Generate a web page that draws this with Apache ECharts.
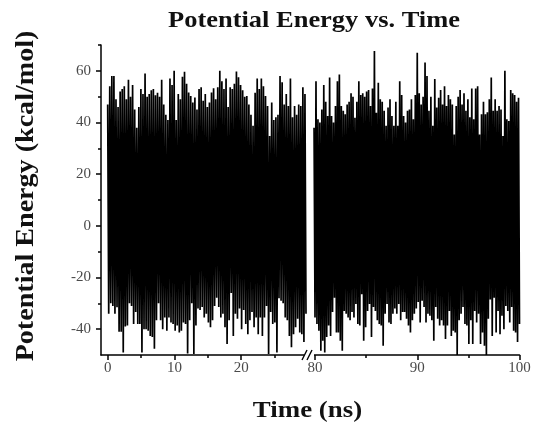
<!DOCTYPE html>
<html>
<head>
<meta charset="utf-8">
<script src="https://cdn.jsdelivr.net/npm/echarts@6/dist/echarts.min.js"></script>
<style>html,body{margin:0;padding:0;background:#fff;}#c{width:534px;height:426px;}</style>
</head>
<body>
<div id="c"></div>
<script>
// ---- data ----
const titleText = 'Potential Energy vs. Time';
const xName = 'Time (ns)';
const yName = 'Potential Energy (kcal/mol)';

const leftRange = [0, 29.7];     // ns, first segment of data
const rightRange = [79.9, 100];  // ns, second segment of data

const leftTop = [47,54,58,58,49,46,52,53,54,49,56.5,50,54.5,45,38,46,53,51,59,50,51,52.5,53,50.5,51.5,50,56.5,47,43,41,57,54.5,60,41,51,49,57.7,59.6,55,51.6,50.3,47.7,49.7,45,53,53.6,48.4,51,46,47.7,51.6,53.3,49,53.6,60,56,53,57,46,53.6,53,55,59.7,57.5,54.5,52.5,50,50.3,47,43,38.7,51.5,57,53,57,54,50.3,46.4,34.8,47.7,41,42,43,58,55.6,47,51,46.4,57,42,46.4,43,47,46.4,53.6,51];
const leftBottom = [-34,-30,-31,-34,-31.5,-41,-41,-49,-39,-38.6,-30,-31,-38,-33.4,-38,-38,-49,-40,-40,-40.6,-42.6,-43,-47.6,-36.5,-30,-36.5,-40,-35.5,-40.6,-35.5,-37.4,-38,-40.6,-38.6,-41.3,-40.6,-37.4,-38,-49.4,-36.5,-30,-49.6,-38.6,-32,-32.6,-31.4,-35.5,-34,-37.4,-39.3,-36.5,-31,-27.8,-31.4,-35.5,-34,-39.3,-45.7,-36.5,-26,-42.6,-34,-36,-32,-40,-32.6,-38,-42,-36.5,-33.4,-39.3,-35.5,-42,-35.5,-42.6,-35.5,-31,-49.6,-33.4,-38,-37.4,-49,-28,-29,-30,-35.5,-36.5,-42.6,-47,-42,-39.3,-36,-41.3,-42,-45,-34];
const rightTop = [38,56,41.3,40,45,54.5,48,42.5,57.4,42.5,40,46.4,56,58.6,46.4,44.5,43.2,47,48,51.3,50,41.8,48,56,50.6,51.3,50,52,52.6,46.4,53.2,67.7,43.8,55.4,49,48,44.5,38.7,45.8,49,42.5,38.7,48,38.7,56,50.6,42.5,40,44.5,45,49,41.3,50.6,67,51.3,47,50,63.2,58,44.5,50,38.7,56.8,45.8,49.6,52.6,47,54,46.4,50.6,49,47,35.4,46.4,50,52.6,47,51.3,44.5,49,42,53.2,41.3,53.2,54,35.4,43.2,48,43.2,44,49,57.4,44.5,49,44.5,46.4,45,34.8,60,41.3,40.6,52.6,51.3,50.6,48,49.6];
const rightBottom = [-35.5,-38,-40.6,-48.4,-44.5,-49,-43,-38.6,-42.6,-33.4,-27.8,-41.3,-41.3,-44.5,-48.4,-33,-34,-35.5,-36.5,-33.4,-35.5,-30.3,-38,-38.6,-26.5,-44.5,-39.3,-33,-30.3,-43,-31.4,-33,-36.5,-38,-38.6,-46.4,-34,-30.3,-37.4,-38,-34,-32,-34,-30.3,-36.5,-33.4,-33.4,-36,-38.6,-41.3,-36.5,-34,-32,-29.5,-37.4,-29,-31.4,-37.4,-34,-34.8,-36.5,-44.5,-31.4,-36,-38.6,-36.5,-38.6,-43.8,-38.6,-33,-42.6,-40.6,-41.3,-50,-36.5,-34,-31.4,-38,-38.6,-45.7,-36.5,-45.7,-33,-37.4,-34,-45.7,-41.3,-46.4,-50,-36,-28.5,-42.6,-27.8,-41.3,-33,-42,-34.8,-40,-31,-33,-37.4,-31.4,-40.6,-41.3,-45,-38];

const yMajor = [-40,-20,0,20,40,60];
const yMinor = [-30,-10,10,30,50,70];
const leftMajor = [0,10,20];
const leftMinor = [5,15,25];
const rightMajor = [80,90,100];
const rightMinor = [85,95];

// time ordered zig-zag: each sample contributes its high then its low
function zigzag(range, tops, bots) {
  const n = Math.min(tops.length, bots.length);
  const step = (range[1] - range[0]) / (n - 0.5);
  const out = [];
  for (let i = 0; i < n; i++) {
    out.push([range[0] + i * step, tops[i]]);
    out.push([range[0] + (i + 0.5) * step, bots[i]]);
  }
  return out;
}

const chart = echarts.init(document.getElementById('c'), null, {renderer: 'canvas'});
const labelFont = {fontFamily: 'Liberation Serif', fontSize: 15, color: '#4a4a4a'};
const lineBlack = {color: '#000', width: 1.5};

function xAxisPair(grid, min, max, major, minor) {
  return [
    {type: 'value', gridIndex: grid, min: min, max: max, position: 'bottom',
     axisLine: {show: true, onZero: false, lineStyle: lineBlack},
     axisTick: {show: true, inside: false, length: 5, customValues: major, lineStyle: lineBlack},
     axisLabel: {show: true, customValues: major, margin: 6, ...labelFont},
     splitLine: {show: false}},
    {type: 'value', gridIndex: grid, min: min, max: max, position: 'bottom',
     axisLine: {show: false, onZero: false},
     axisTick: {show: true, inside: false, length: 3, customValues: minor, lineStyle: lineBlack},
     axisLabel: {show: false},
     splitLine: {show: false}}
  ];
}

const option = {
  animation: false,
  backgroundColor: '#fff',
  grid: [
    {left: 101, top: 45, width: 207, height: 310, containLabel: false, outerBoundsMode: 'none'},
    {left: 312, top: 45, width: 207.5, height: 310, containLabel: false, outerBoundsMode: 'none'}
  ],
  xAxis: [
    ...xAxisPair(0, -1, 30, leftMajor, leftMinor),
    ...xAxisPair(1, 79.7, 100, rightMajor, rightMinor)
  ],
  yAxis: [
    {type: 'value', gridIndex: 0, min: -50, max: 70, position: 'left',
     axisLine: {show: true, onZero: false, lineStyle: lineBlack},
     axisTick: {show: true, inside: false, length: 5, customValues: yMajor, lineStyle: lineBlack},
     axisLabel: {show: true, customValues: yMajor, margin: 10, ...labelFont},
     splitLine: {show: false}},
    {type: 'value', gridIndex: 0, min: -50, max: 70, position: 'left',
     axisLine: {show: false, onZero: false},
     axisTick: {show: true, inside: false, length: 3, customValues: yMinor, lineStyle: lineBlack},
     axisLabel: {show: false},
     splitLine: {show: false}},
    {type: 'value', gridIndex: 1, min: -50, max: 70, show: false, axisLine: {onZero: false}}
  ],
  series: [
    {type: 'line', xAxisIndex: 0, yAxisIndex: 0, data: zigzag(leftRange, leftTop, leftBottom),
     showSymbol: false, symbol: 'none', lineStyle: {color: '#000', width: 1.7, join: 'miter'}, silent: true},
    {type: 'line', xAxisIndex: 2, yAxisIndex: 2, data: zigzag(rightRange, rightTop, rightBottom),
     showSymbol: false, symbol: 'none', lineStyle: {color: '#000', width: 1.7, join: 'miter'}, silent: true}
  ]
};
chart.setOption(option);

// decorations: title, axis names, axis break marks
const brk = chart.convertToPixel({xAxisIndex: 0, yAxisIndex: 0}, [30, -50]);
const bx = brk[0], by = brk[1];
chart.setOption({
  graphic: [
    {type: 'text', x: 314, y: 21, scaleX: 1.15, z: 100,
     style: {text: titleText, font: 'bold 23px "Liberation Serif"', fill: '#111',
             align: 'center', verticalAlign: 'middle', textAlign: 'center', textVerticalAlign: 'middle'}},
    {type: 'text', x: 307.5, y: 411, scaleX: 1.12, z: 100,
     style: {text: xName, font: 'bold 24px "Liberation Serif"', fill: '#111',
             align: 'center', verticalAlign: 'middle', textAlign: 'center', textVerticalAlign: 'middle'}},
    {type: 'text', x: 26, y: 196, rotation: Math.PI / 2, scaleX: 1.08, z: 100,
     style: {text: yName, font: 'bold 26px "Liberation Serif"', fill: '#111',
             align: 'center', verticalAlign: 'middle', textAlign: 'center', textVerticalAlign: 'middle'}},
    {type: 'rect', z: 100, shape: {x: bx - 4, y: by - 2, width: 10, height: 4}, style: {fill: '#fff'}},
    {type: 'line', z: 101, shape: {x1: bx - 6, y1: by + 5, x2: bx - 1, y2: by - 5}, style: {stroke: '#000', lineWidth: 1.4}},
    {type: 'line', z: 101, shape: {x1: bx - 1, y1: by + 5, x2: bx + 4, y2: by - 5}, style: {stroke: '#000', lineWidth: 1.4}}
  ]
});
</script>
</body>
</html>
